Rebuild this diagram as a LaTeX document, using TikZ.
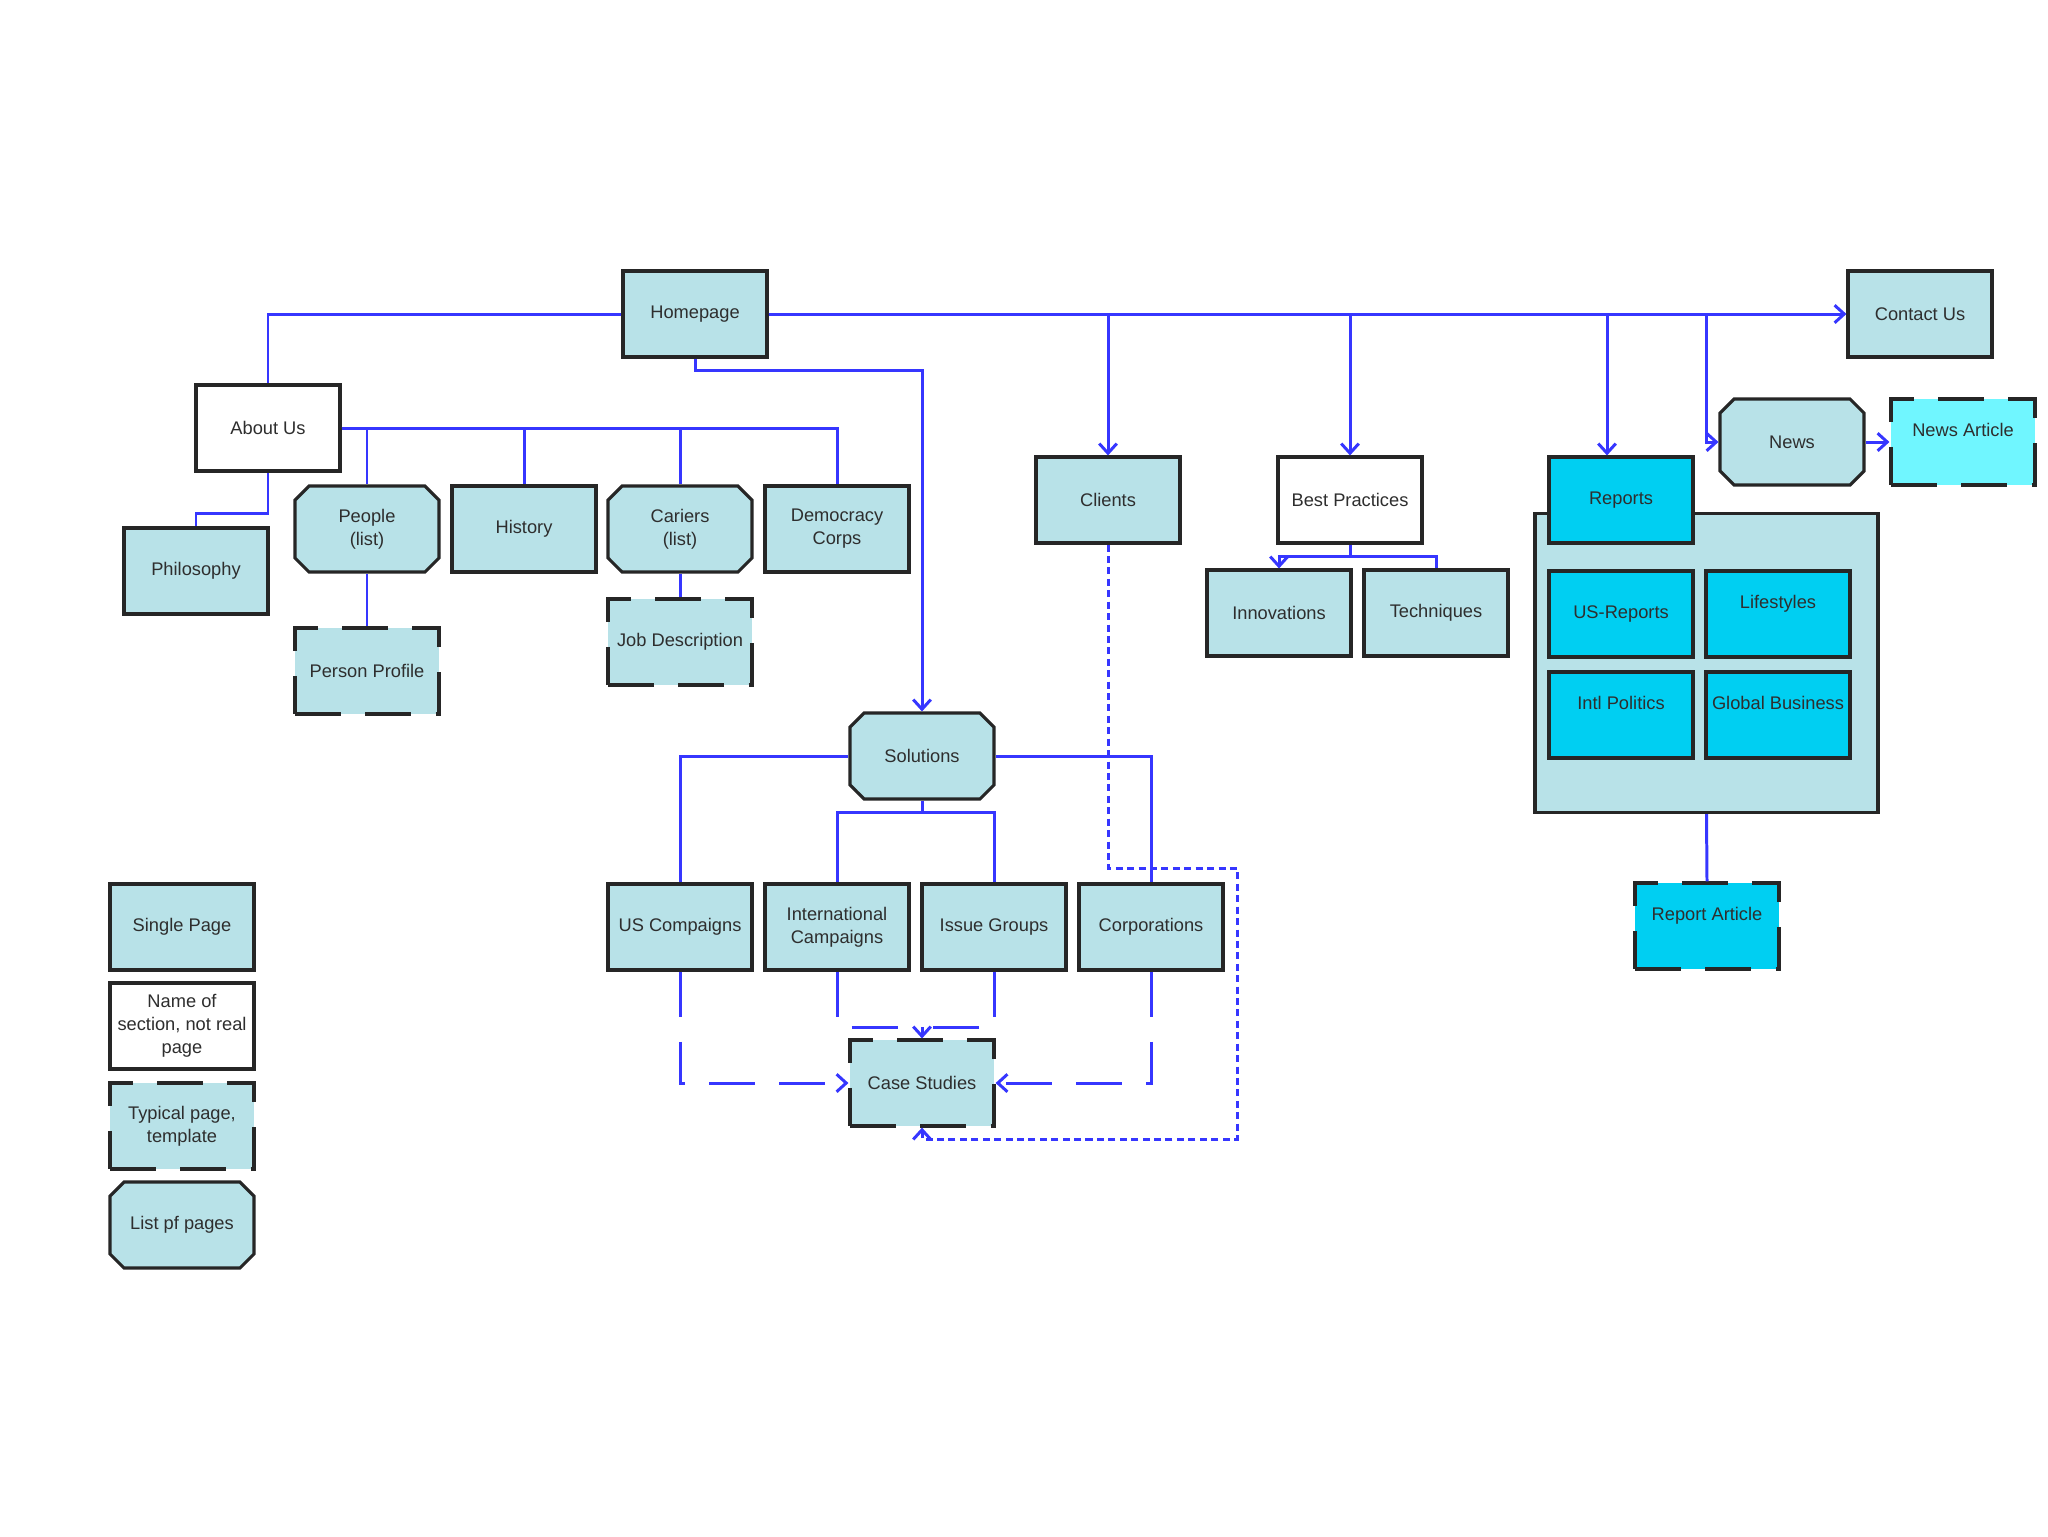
\documentclass[tikz,border=0pt]{standalone}
\usepackage{fontspec}
\setmainfont{Liberation Sans}
\usetikzlibrary{arrows.meta,shapes.misc}
\definecolor{powder}{HTML}{B8E2E8}
\definecolor{cyanrep}{HTML}{00CFF2}
\definecolor{aquaart}{HTML}{70F6FF}
\definecolor{linkblue}{HTML}{3636FF}
\definecolor{inkgray}{HTML}{2E2E2E}

\begin{document}
\begin{tikzpicture}[
  x=0.02cm, y=-0.02cm,
  font=\fontsize{10.4}{13}\selectfont,
  pagebox/.style={draw=black!85, line width=1.8pt, fill=powder, text=inkgray, minimum width=2.88cm, minimum height=1.72cm, align=center, inner sep=1pt},
  sectionbox/.style={pagebox, fill=white},
  templatebox/.style={pagebox, dash pattern=on 26pt off 14pt},
  listbox/.style={pagebox, chamfered rectangle, chamfered rectangle xsep=0.14cm, chamfered rectangle ysep=0.14cm},
  reportbox/.style={pagebox, fill=cyanrep},
  raised/.style={text depth=0.5cm},
  link/.style={draw=linkblue, line width=1.7pt},
  dashlink/.style={link, dash pattern=on 26pt off 14pt},
  dotlink/.style={link, dash pattern=on 4pt off 2.5pt},
  >={Straight Barb[length=5.5pt,width=10pt]}
]
\useasboundingbox[fill=white] (0,0) rectangle (2048,1536);

% pages
\node[pagebox] (home) at (695,314) {Homepage};
\node[pagebox] (contact) at (1920,314) {Contact Us};
\node[sectionbox] (about) at (268,428) {About Us};
\node[pagebox] (philo) at (196,571) {Philosophy};
\node[listbox] (people) at (367,529) {People\\(list)};
\node[pagebox] (history) at (524,529) {History};
\node[listbox] (cariers) at (680,529) {Cariers\\(list)};
\node[pagebox] (democracy) at (837,529) {Democracy\\Corps};
\node[templatebox] (profile) at (367,671) {Person Profile};
\node[templatebox] (jobdesc) at (680,642) {Job Description};
\node[pagebox] (clients) at (1108,500) {Clients};
\node[sectionbox] (bestp) at (1350,500) {Best Practices};
\node[pagebox] (innov) at (1279,613) {Innovations};
\node[pagebox] (techn) at (1436,613) {Techniques};
\node[pagebox, minimum width=6.86cm, minimum height=5.98cm] (repgroup) at (1706.5,663) {};
\node[reportbox] (reports) at (1621,500) {Reports};
\node[reportbox] (usrep) at (1621,614) {US-Reports};
\node[reportbox, raised] (lifest) at (1778,614) {Lifestyles};
\node[reportbox, raised] (intlpol) at (1621,715) {Intl Politics};
\node[reportbox, raised] (globbus) at (1778,715) {Global Business};
\node[listbox] (news) at (1792,442) {News};
\node[templatebox, fill=aquaart, raised] (newsart) at (1963,442) {News Article};
\node[templatebox, fill=cyanrep, raised] (reportart) at (1707,926) {Report Article};
\node[listbox] (solutions) at (922,756) {Solutions};
\node[pagebox] (uscomp) at (680,927) {US Compaigns};
\node[pagebox] (intlcamp) at (837,927) {International\\Campaigns};
\node[pagebox] (issue) at (994,927) {Issue Groups};
\node[pagebox] (corp) at (1151,927) {Corporations};
\node[templatebox] (casest) at (922,1083) {Case Studies};

% legend
\node[pagebox] (lgsingle) at (182,927) {Single Page};
\node[sectionbox] (lgsection) at (182,1026) {Name of\\section, not real\\page};
\node[templatebox] (lgtemplate) at (182,1126) {Typical page,\\template};
\node[listbox] (lglist) at (182,1225) {List pf pages};

% bends
\coordinate (newsdrop) at (1706,442);
\coordinate (soltop) at (922,370);
\coordinate (philbend) at (268,513);
\coordinate (bpbend) at (1350,556);
\coordinate (solbend) at (922,812);
\coordinate (csjoin) at (922,1027);
\coordinate (loopne) at (1237,868);
\coordinate (loopse) at (1237,1139);

\draw[link] (home.west) -| (about.north);
\draw[link,->] (home.east) -- (contact.west);
\draw[link,->] (home.east) -| (clients.north);
\draw[link,->] (home.east) -| (bestp.north);
\draw[link,->] (home.east) -| ([xshift=-0.28cm]reports.north);
\draw[link,->] (home.east) -| (newsdrop) -- (news.west);
\draw[link,->] (home.south) |- (soltop) -- (solutions.north);

\draw[link] (about.east) -| (people.north);
\draw[link] (about.east) -| (history.north);
\draw[link] (about.east) -| (cariers.north);
\draw[link] (about.east) -| (democracy.north);
\draw[link] (about.south) -- (philbend) -| (philo.north);
\draw[link] (people.south) -- (profile.north);
\draw[link] (cariers.south) -- (jobdesc.north);

\draw[link,->] (bestp.south) -- (bpbend) -| (innov.north);
\draw[link] (bpbend) -| (techn.north);

\draw[link,->] (news.east) -- (newsart.west);
\draw[link] (repgroup.south) -- (reportart.north);

\draw[link] (solutions.west) -| (uscomp.north);
\draw[link] (solutions.east) -| (corp.north);
\draw[link] (solutions.south) -- (solbend) -| (intlcamp.north);
\draw[link] (solbend) -| (issue.north);

\draw[dashlink,->] (uscomp.south) |- (casest.west);
\draw[dashlink,->] (corp.south) |- (casest.east);
\draw[dashlink,->] (intlcamp.south) |- (csjoin) -- (casest.north);
\draw[dashlink] (issue.south) |- (csjoin);
\draw[dotlink,->] (clients.south) |- (loopne) -- (loopse) -| (casest.south);

\end{tikzpicture}
\end{document}
